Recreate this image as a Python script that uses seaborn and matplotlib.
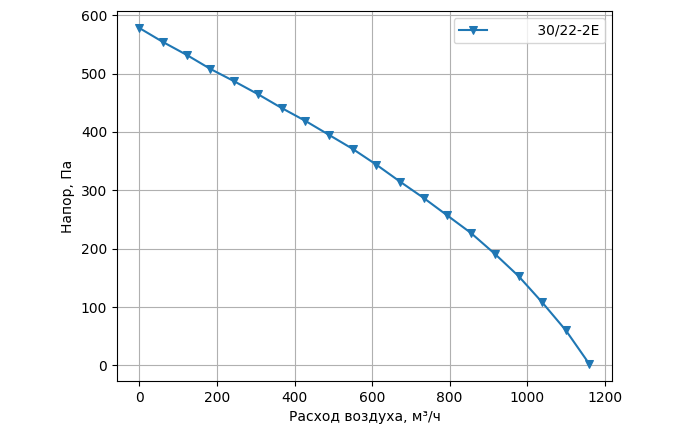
import matplotlib
matplotlib.use('Agg')
import matplotlib.pyplot as plt
import seaborn as sns
import pandas

# ====== DATA

airflow = [0, 61, 122, 183, 244, 305, 367, 428, 489, 550,
           611, 672, 733, 794, 855, 917, 978, 1039, 1100, 1161]
pressure = [578, 554, 532, 508, 487, 465, 441, 419, 395, 371,
            344, 315, 287, 257, 227, 191, 153, 108, 60, 2]
model_label = '         30/22-2E'

df = pandas.DataFrame({'airflow': airflow, 'pressure': pressure})

# ====== PLOT

fig, ax = plt.subplots(figsize=(6.8, 4.34), dpi=100)
sns.lineplot(x='airflow', y='pressure', data=df, marker='v', color='#1f77b4',
             markeredgecolor='#1f77b4', markersize=6, label=model_label, ax=ax)
ax.set_xlabel('Расход воздуха, м³/ч')
ax.set_ylabel('Напор, Па')
ax.grid(True)
ax.legend(loc='upper right')
plt.subplots_adjust(left=0.172, right=0.9, top=0.974, bottom=0.122)
plt.savefig('out.png', dpi=100)
plt.close()
